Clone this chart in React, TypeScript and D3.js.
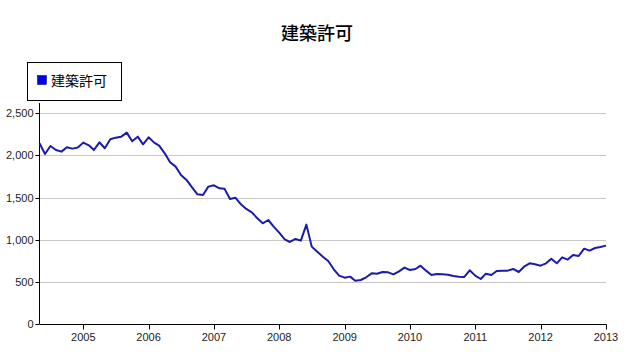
import { useEffect, useRef } from 'react';
import * as d3 from 'd3';

const title = '建築許可';
const seriesName = '建築許可';
const startMonth = new Date(2004, 4, 1);
const endMonth = new Date(2013, 0, 1);

// monthly values, May 2004 .. Jan 2013
const permits = [
    2144, 2017, 2112, 2065, 2045, 2097, 2081, 2093, 2152, 2120,
    2065, 2156, 2085, 2192, 2211, 2223, 2271, 2168, 2223, 2132,
    2215, 2152, 2116, 2025, 1919, 1867, 1768, 1709, 1622, 1539,
    1531, 1630, 1646, 1610, 1606, 1483, 1499, 1420, 1365, 1325,
    1254, 1195, 1234, 1155, 1084, 1005, 973, 1009, 989, 1179,
    918, 858, 799, 748, 649, 574, 550, 562, 514, 522,
    554, 601, 597, 617, 613, 589, 625, 669, 641, 653,
    692, 633, 582, 593, 589, 585, 570, 562, 558, 637,
    574, 534, 597, 582, 629, 633, 633, 653, 617, 680,
    720, 708, 692, 720, 775, 720, 791, 764, 819, 807,
    894, 870, 902, 914, 930,
];

const yTicks = [0, 500, 1000, 1500, 2000, 2500];
const xTickYears = [2005, 2006, 2007, 2008, 2009, 2010, 2011, 2012, 2013];

export default function App() {
    const svgRef = useRef<SVGSVGElement>(null);

    useEffect(() => {
        if (!svgRef.current) return;
        const svg = d3.select(svgRef.current);
        svg.selectAll('*').remove();

        const left = 39.5;
        const right = 606;
        const bottom = 324;
        const top = 103;

        const data = permits.map((v, i) => ({ date: d3.timeMonth.offset(startMonth, i), value: v }));

        const x = d3.scaleTime().domain([startMonth, endMonth]).range([left, right]);
        const y = d3.scaleLinear().domain([0, 2500]).range([bottom, 113.3]);

        const font = '"Liberation Sans", Arial, sans-serif';
        const cjk = '"Noto Sans CJK JP", "Noto Sans CJK TC", sans-serif';

        // title
        svg.append('text')
            .attr('x', 317)
            .attr('y', 40)
            .attr('text-anchor', 'middle')
            .attr('font-family', cjk)
            .attr('font-size', 18)
            .attr('font-weight', 500)
            .attr('fill', '#000')
            .text(title);

        // legend
        const lg = svg.append('g');
        lg.append('rect')
            .attr('x', 27.5).attr('y', 62.5)
            .attr('width', 94).attr('height', 38)
            .attr('fill', '#fff').attr('stroke', '#000');
        lg.append('rect')
            .attr('x', 37.5).attr('y', 75.5)
            .attr('width', 9).attr('height', 9)
            .attr('fill', '#0000ee').attr('stroke', '#000033').attr('stroke-width', 0.5);
        lg.append('text')
            .attr('x', 51).attr('y', 86)
            .attr('font-family', cjk)
            .attr('font-size', 14)
            .text(seriesName);

        // grid
        svg.append('g')
            .selectAll('line')
            .data(yTicks.filter(d => d > 0))
            .join('line')
            .attr('x1', left).attr('x2', right)
            .attr('y1', d => Math.round(y(d)) + 0.5)
            .attr('y2', d => Math.round(y(d)) + 0.5)
            .attr('stroke', '#c8c8c8');

        // y axis
        const ya = svg.append('g').attr('transform', `translate(${left},0)`);
        ya.append('line').attr('y1', top).attr('y2', bottom).attr('stroke', '#000');
        ya.selectAll('line.tk')
            .data(yTicks)
            .join('line')
            .attr('class', 'tk')
            .attr('x1', -4).attr('x2', 0)
            .attr('y1', d => Math.round(y(d)) + 0.5)
            .attr('y2', d => Math.round(y(d)) + 0.5)
            .attr('stroke', '#000');
        ya.selectAll('text')
            .data(yTicks)
            .join('text')
            .attr('x', -6)
            .attr('y', d => y(d) + 4)
            .attr('text-anchor', 'end')
            .attr('font-family', font)
            .attr('font-size', 11)
            .attr('fill', '#222')
            .text(d => d3.format(',')(d));

        // x axis
        const xa = svg.append('g').attr('transform', `translate(0,${bottom + 0.5})`);
        xa.append('line').attr('x1', left).attr('x2', right + 0.5).attr('stroke', '#000');
        xa.selectAll('line.tk')
            .data(xTickYears)
            .join('line')
            .attr('class', 'tk')
            .attr('x1', d => Math.round(x(new Date(d, 0, 1))) + 0.5)
            .attr('x2', d => Math.round(x(new Date(d, 0, 1))) + 0.5)
            .attr('y1', 0).attr('y2', 5)
            .attr('stroke', '#000');
        xa.selectAll('text')
            .data(xTickYears)
            .join('text')
            .attr('x', d => x(new Date(d, 0, 1)))
            .attr('y', 16)
            .attr('text-anchor', 'middle')
            .attr('font-family', font)
            .attr('font-size', 11)
            .attr('fill', '#222')
            .text(d => String(d));

        // line
        const line = d3.line<{ date: Date; value: number }>()
            .x(d => x(d.date))
            .y(d => y(d.value));

        svg.append('path')
            .datum(data)
            .attr('fill', 'none')
            .attr('stroke', '#1a1aae')
            .attr('stroke-width', 2)
            .attr('stroke-linejoin', 'round')
            .attr('d', line);
    }, []);

    return (
        <div style={{ position: 'absolute', left: 0, top: 0, width: 640, height: 352, background: '#fff' }}>
            <svg ref={svgRef} width={640} height={352} style={{ display: 'block' }} />
        </div>
    );
}
